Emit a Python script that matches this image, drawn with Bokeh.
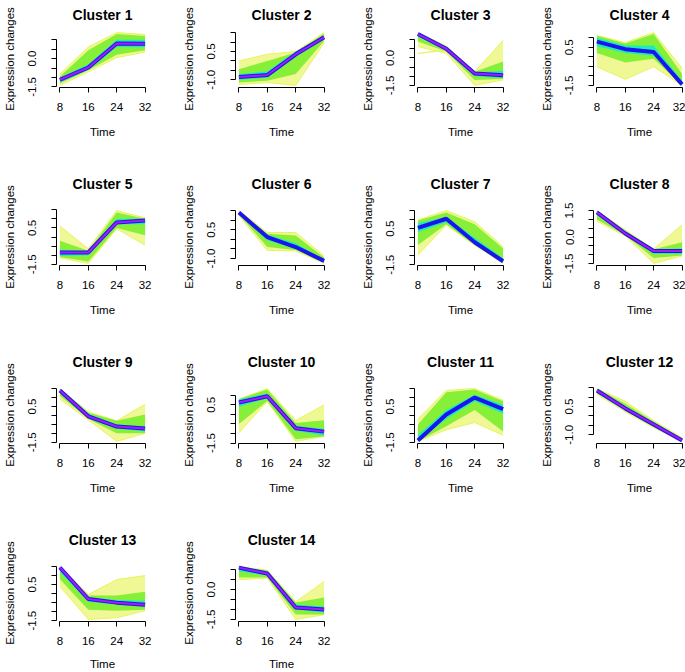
from bokeh.plotting import figure
from bokeh.layouts import column, row
from bokeh.models import Range1d, FixedTicker
from bokeh.embed import file_html
from bokeh.resources import INLINE

# ---------------- data ----------------
time_points = [8, 16, 24, 32]
x_ticks = [8, 16, 24, 32]
cluster_names = ["Cluster %d" % i for i in range(1, 15)]

core = [
    [-1.12, -0.47, 0.80, 0.79],
    [-0.85, -0.75, 0.35, 1.25],
    [1.30, 0.50, -0.85, -0.95],
    [0.80, 0.40, 0.25, -1.45],
    [-0.85, -0.85, 0.80, 0.90],
    [1.40, 0.12, -0.40, -1.12],
    [0.55, 1.05, -0.25, -1.30],
    [1.40, 0.20, -0.80, -0.80],
    [1.40, -0.05, -0.62, -0.73],
    [0.62, 0.95, -0.72, -0.90],
    [-1.40, 0.05, 1.00, 0.35],
    [1.35, 0.40, -0.45, -1.30],
    [1.45, -0.30, -0.50, -0.62],
    [1.10, 0.80, -0.90, -1.00],
]
inner_lo = [
    [-1.25, -0.60, 0.62, 0.60],
    [-1.00, -0.90, 0.20, 1.15],
    [1.15, 0.42, -1.00, -1.10],
    [0.55, 0.20, 0.05, -1.50],
    [-1.05, -1.00, 0.70, 0.70],
    [1.35, -0.05, -0.50, -1.18],
    [0.30, 0.85, -0.35, -1.38],
    [1.30, 0.15, -0.95, -0.95],
    [1.30, -0.15, -0.75, -0.90],
    [0.40, 0.85, -0.85, -1.10],
    [-1.45, -0.20, 0.80, 0.10],
    [1.25, 0.33, -0.52, -1.33],
    [1.20, -0.45, -0.60, -0.70],
    [0.90, 0.70, -1.00, -1.15],
]
inner_hi = [
    [-1.02, -0.30, 1.00, 1.00],
    [-0.70, -0.55, 0.50, 1.35],
    [1.35, 0.58, -0.80, -0.70],
    [1.00, 0.60, 0.60, -1.25],
    [-0.70, -0.80, 1.00, 1.00],
    [1.45, 0.25, -0.20, -1.05],
    [0.80, 1.15, 0.00, -1.15],
    [1.50, 0.30, -0.72, -0.65],
    [1.50, 0.10, -0.50, -0.60],
    [0.80, 1.10, -0.60, -0.75],
    [-1.10, 0.30, 1.15, 0.60],
    [1.42, 0.50, -0.38, -1.24],
    [1.50, -0.20, -0.35, -0.40],
    [1.15, 0.90, -0.75, -0.85],
]
mid_lo = [
    [-1.32, -0.62, 0.20, 0.45],
    [-1.15, -1.05, -0.70, 1.05],
    [0.90, 0.35, -1.20, -1.15],
    [0.20, -0.30, -0.10, -1.50],
    [-1.10, -1.35, 0.50, 0.10],
    [1.30, -0.40, -0.55, -1.22],
    [-0.40, 0.75, -0.40, -1.40],
    [1.00, 0.10, -1.20, -1.05],
    [1.10, -0.20, -1.00, -1.00],
    [-0.50, 0.70, -1.30, -1.15],
    [-1.45, -0.60, 0.30, -0.90],
    [1.20, 0.28, -0.58, -1.35],
    [0.80, -0.90, -0.95, -0.90],
    [0.60, 0.60, -1.25, -1.25],
]
mid_hi = [
    [-0.95, 0.45, 1.30, 1.20],
    [-0.45, 0.00, 0.45, 1.45],
    [1.30, 0.60, -0.75, -0.20],
    [1.10, 0.70, 1.20, -0.90],
    [-0.20, -0.75, 1.35, 1.00],
    [1.47, 0.30, 0.20, -0.95],
    [0.95, 1.40, 0.75, -0.60],
    [1.50, 0.35, -0.70, -0.30],
    [1.50, 0.15, -0.30, 0.05],
    [0.80, 1.30, -0.45, -0.30],
    [-0.50, 1.30, 1.45, 0.80],
    [1.45, 0.65, -0.30, -1.20],
    [1.50, -0.10, -0.10, 0.10],
    [1.15, 0.95, -0.65, -0.40],
]
outer_lo = [
    [-1.42, -0.70, 0.05, 0.35],
    [-1.25, -1.15, -1.30, 0.95],
    [0.62, 0.25, -1.50, -1.20],
    [-0.52, -1.18, -0.52, -1.50],
    [-1.15, -1.45, 0.45, -0.45],
    [1.25, -0.58, -0.60, -1.25],
    [-0.95, 0.70, -0.42, -1.42],
    [0.90, 0.05, -1.50, -1.08],
    [0.90, -0.25, -1.45, -1.00],
    [-0.96, 0.68, -1.41, -1.14],
    [-1.45, -0.80, -0.40, -1.10],
    [1.15, 0.22, -0.62, -1.35],
    [0.40, -1.43, -1.34, -0.95],
    [0.49, 0.58, -1.50, -1.27],
]
outer_hi = [
    [-0.82, 0.62, 1.38, 1.28],
    [0.00, 0.35, 0.50, 1.50],
    [1.38, 0.65, -0.75, 0.95],
    [1.12, 0.75, 1.27, -0.60],
    [0.60, -0.65, 1.45, 1.05],
    [1.50, 0.36, 0.36, -0.86],
    [0.98, 1.50, 0.88, -0.50],
    [1.50, 0.40, -0.68, 0.69],
    [1.50, 0.20, -0.30, 0.62],
    [0.80, 1.35, -0.32, 0.50],
    [-0.20, 1.40, 1.50, 0.85],
    [1.45, 0.78, -0.25, -1.15],
    [1.50, -0.05, 0.78, 1.00],
    [1.15, 0.97, -0.62, 0.40],
]
# stray low-membership profiles drawn on their own
stray_cluster = [3]
stray_values = [[0.25, 0.42, -0.85, -0.90]]

purple_core = [True, True, True, False, True, False, False,
               True, True, True, False, True, True, True]

all_y_ticks = [-1.5, -1.0, -0.5, 0.0, 0.5, 1.0, 1.5]
y_labels = [
    [-1.5, 0.0], [-1.0, 0.5], [-1.5, 0.0], [-1.5, 0.5],
    [-1.5, 0.5], [-1.0, 0.5], [-1.5, 0.5], [-1.5, 0.0, 1.5],
    [-1.5, 0.5], [-1.5, 0.5], [-1.5, 0.5], [-1.0, 0.5],
    [-1.5, 0.5], [-1.5, 0.0],
]

# ---------------- styling / layout ----------------
FONT = "Liberation Sans"
OUTER = "#E6F55A"
MID = "#6CEE22"
INNER = "#14EAC8"
BLUE = "#1A14F0"
PURPLE = "#A01EF2"

FRAME_W = 96
col_w = [179, 179, 179, 148]
col_mbl = [52, 52, 52, 52]
col_mbr = [31, 31, 31, 0]
row_h = [142, 178, 178, 174]
row_mbt = [30, 66, 66, 66]
row_mbb = [55, 55, 55, 51]


def fmt(v):
    return "%.1f" % v


def make_panel(i):
    r, c = divmod(i, 4)
    frame_w = col_w[c] - col_mbl[c] - col_mbr[c]
    xs = time_points
    vals = core[i] + inner_lo[i] + inner_hi[i] + mid_lo[i] + mid_hi[i] + outer_lo[i] + outer_hi[i]
    ymin, ymax = min(vals), max(vals)
    pad = 0.04 * (ymax - ymin)
    x0 = xs[0] - 0.04 * (xs[-1] - xs[0])
    x1full = xs[-1] + 0.04 * (xs[-1] - xs[0])
    x1 = x0 + (x1full - x0) * frame_w / FRAME_W

    p = figure(width=col_w[c], height=row_h[r], output_backend="svg",
               toolbar_location=None,
               x_range=Range1d(x0, x1), y_range=Range1d(ymin - pad, ymax + pad),
               min_border_left=col_mbl[c], min_border_right=col_mbr[c],
               min_border_top=row_mbt[r], min_border_bottom=row_mbb[r],
               title=cluster_names[i])
    p.outline_line_color = None
    p.grid.visible = False
    p.background_fill_color = "white"
    p.border_fill_color = "white"

    p.title.text_font = FONT
    p.title.text_font_size = "14px"
    p.title.text_font_style = "bold"
    p.title.align = "center"
    p.title.text_color = "black"
    if r == 0:
        p.title.standoff = 12
        p.title.vertical_align = "top"
    else:
        p.title.standoff = 33

    # bands of profiles by membership
    p.varea(x=xs, y1=outer_lo[i], y2=outer_hi[i], fill_color=OUTER, fill_alpha=0.65)
    p.line(xs, outer_lo[i], line_color=OUTER, line_width=1)
    p.line(xs, outer_hi[i], line_color=OUTER, line_width=1)
    for k, cl in enumerate(stray_cluster):
        if cl == i + 1:
            p.line(xs, stray_values[k], line_color=OUTER, line_width=1.2)
    p.varea(x=xs, y1=mid_lo[i], y2=mid_hi[i], fill_color=MID, fill_alpha=0.8)
    p.varea(x=xs, y1=inner_lo[i], y2=inner_hi[i], fill_color=INNER, fill_alpha=0.9)
    p.line(xs, core[i], line_color=BLUE, line_width=4)
    if purple_core[i]:
        p.line(xs, core[i], line_color=PURPLE, line_width=2)

    # axes
    ticks = [t for t in all_y_ticks if ymin - pad <= t <= ymax + pad]
    p.xaxis.ticker = FixedTicker(ticks=x_ticks)
    p.xaxis.bounds = (x_ticks[0], x_ticks[-1])
    p.yaxis.ticker = FixedTicker(ticks=ticks)
    p.yaxis.bounds = (ticks[0], ticks[-1])
    p.yaxis.major_label_overrides = {t: (fmt(t) if t in y_labels[i] else "") for t in ticks}
    p.yaxis.major_label_orientation = "vertical"
    p.xaxis.axis_label = "Time"
    p.yaxis.axis_label = "Expression changes"
    for ax in (p.xaxis[0], p.yaxis[0]):
        ax.axis_line_color = "black"
        ax.axis_line_width = 1
        ax.major_tick_line_color = "black"
        ax.major_tick_out = 5
        ax.major_tick_in = 0
        ax.minor_tick_line_color = None
        ax.major_label_text_font = FONT
        ax.major_label_text_font_size = "11.5px"
        ax.major_label_text_color = "black"
        ax.axis_label_text_font = FONT
        ax.axis_label_text_font_size = "11.5px"
        ax.axis_label_text_font_style = "normal"
        ax.axis_label_text_color = "black"
    p.xaxis.major_label_standoff = 10
    p.yaxis.major_label_standoff = 15
    p.xaxis.axis_label_standoff = 10 if r == 3 else 12
    p.yaxis.axis_label_standoff = 10
    return p


panels = [make_panel(i) for i in range(14)]
rows = []
for r in range(4):
    rows.append(row(*panels[r * 4:(r + 1) * 4], spacing=0))
layout = column(*rows, spacing=0)

open("out.html", "w").write(file_html(layout, INLINE))
